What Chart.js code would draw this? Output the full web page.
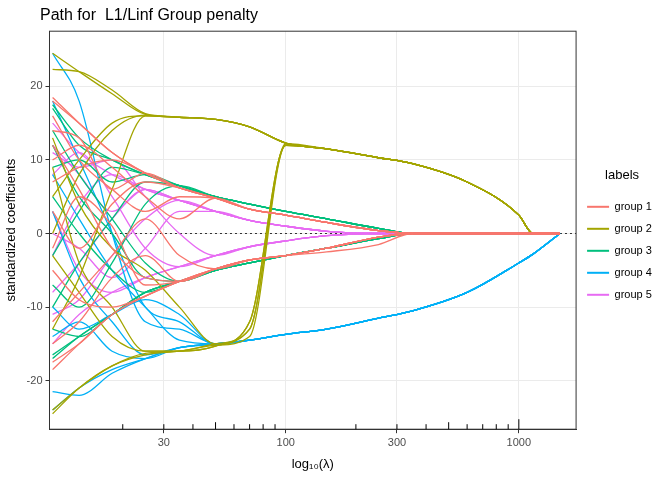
<!DOCTYPE html>
<html lang="en">
<head>
<meta charset="UTF-8">
<title>Path for L1/Linf Group penalty</title>
<script src="https://cdn.jsdelivr.net/npm/chart.js"></script>
<style>
  body { margin: 0; background: #fff; }
  #wrap { width: 672px; height: 480px; }
</style>
</head>
<body>
<div id="wrap"><canvas id="chart" width="672" height="480"></canvas></div>
<script>
// lambda grid shared by every path
const lambdas = [10, 13, 18, 25, 35, 50, 70, 100, 150, 250, 350, 600, 1000, 1150, 1500];
const groupNames = ['group 1', 'group 2', 'group 3', 'group 4', 'group 5'];
const groupColors = ['#F8766D', '#A3A500', '#00BF7D', '#00B0F6', '#E76BF3'];
const xTickLabels = [30, 100, 300, 1000];
const yTicks = [-20, -10, 0, 10, 20];

const group1 = [
  [18.5, 15, 11, 8.2, 6.2, 4.8, 3.3, 2.5, 1.5, 0.4, 0, 0, 0, 0, 0],
  [18, 15, 11, 8.2, 6.2, 4.8, 3.3, 2.5, 1.5, 0.4, 0, 0, 0, 0, 0],
  [-18.5, -15, -11, -8.5, -6.5, -4.8, -3.6, -3, -2, -0.5, 0, 0, 0, 0, 0],
  [-17.5, -15, -11, -8.5, -6.5, -4.8, -3.6, -3, -2, -0.5, 0, 0, 0, 0, 0],
  [16, 10, 6, 3, 5, 4.8, 3.3, 2.5, 1.5, 0.4, 0, 0, 0, 0, 0],
  [-12, -8, -3, 2, -3, -4.8, -3.6, -3, -2, -0.5, 0, 0, 0, 0, 0],
  [12, 6, -2, -6, -6.5, -4.8, -3.6, -3, -2.5, -1.5, 0, 0, 0, 0, 0],
  [7, 9, 10, 8.2, 6.2, 4.8, 3.3, 2.5, 1.5, 0.4, 0, 0, 0, 0, 0],
  [-5, -9, -10, -8.5, -6.5, -4.8, -3.6, -3, -2, -0.5, 0, 0, 0, 0, 0],
  [3, -2, 4, 7, 6.2, 4.8, 3.3, 2.5, 1.5, 0.4, 0, 0, 0, 0, 0],
  [-15, -12, -6, -3, -6.5, -4.8, -3.6, -3, -2, -0.5, 0, 0, 0, 0, 0],
  [10, 12, 9, 5, 2, 4.8, 3.3, 2.5, 1.5, 0.4, 0, 0, 0, 0, 0],
  [14, 13, 6, 8.2, 6.2, 4.8, 3.3, 2.5, 1.5, 0.4, 0, 0, 0, 0, 0],
  [-2, 5, 1, -7, -6.5, -4.8, -3.6, -3, -2, -0.5, 0, 0, 0, 0, 0]
];
const group2 = [
  [24.5, 22, 19, 16.2, 15.8, 15.5, 14.5, 12.3, 11.5, 10.3, 9.5, 7, 2.5, 0, 0],
  [22.3, 22, 19.5, 16.3, 15.8, 15.5, 14.5, 12.3, 11.5, 10.3, 9.5, 7, 2.5, 0, 0],
  [-24.5, -21, -18, -16.5, -16, -15.2, -14, 12, 11.5, 10.3, 9.5, 7, 2.5, 0, 0],
  [-24, -21, -18, -16.3, -16, -15, -13, 12.2, 11.5, 10.3, 9.5, 7, 2.5, 0, 0],
  [5, 10, 15, 16, 15.8, 15.5, 14.5, 12.3, 11.5, 10.3, 9.5, 7, 2.5, 0, 0],
  [-3, -8, -14, -16, -16, -15.3, -12, 12, 11.5, 10.3, 9.5, 7, 2.5, 0, 0],
  [13, 4, -2, -5, -10, -15, -13, 12, 11.5, 10.3, 9.5, 7, 2.5, 0, 0],
  [0, 8, 14, 16.1, 15.8, 15.5, 14.5, 12.3, 11.5, 10.3, 9.5, 7, 2.5, 0, 0],
  [-13, -6, 6, 16, 15.8, 15.5, 14.5, 12.3, 11.5, 10.3, 9.5, 7, 2.5, 0, 0],
  [9, -4, -10, -16, -16, -15.3, -12, 12, 11.5, 10.3, 9.5, 7, 2.5, 0, 0]
];
const group3 = [
  [17.5, 13, 10, 8, 6.5, 5, 4, 3, 2, 0.7, 0, 0, 0, 0, 0],
  [-17, -14, -11, -8, -6.5, -5, -4, -3, -2, -0.7, 0, 0, 0, 0, 0],
  [17, 12, 10, 8, 6.5, 5, 4, 3, 2, 0.7, 0, 0, 0, 0, 0],
  [-16.5, -14, -11, -8, -6.5, -5, -4, -3, -2, -0.7, 0, 0, 0, 0, 0],
  [12, 5, 0, -6, -6.5, -5, -4, -3, -2, -0.7, 0, 0, 0, 0, 0],
  [-10, -4, 2, 7, 6.5, 5, 4, 3, 2, 0.7, 0, 0, 0, 0, 0],
  [5, 0, -5, -8, -6.5, -5, -4, -3, -2, -0.7, 0, 0, 0, 0, 0],
  [-13, -14, -11, -8, -6.5, -5, -4, -3, -2, -0.7, 0, 0, 0, 0, 0],
  [9, 10, 7, 8, 6.5, 5, 4, 3, 2, 0.7, 0, 0, 0, 0, 0],
  [-3, 3, 9, 8, 6.5, 5, 4, 3, 2, 0.7, 0, 0, 0, 0, 0],
  [14, 8, 2, -4, -6.5, -5, -4, -3, -2, -0.7, 0, 0, 0, 0, 0],
  [-7, -10, -4, 4, 6.5, 5, 4, 3, 2, 0.7, 0, 0, 0, 0, 0]
];
const group4 = [
  [-24, -21, -18.5, -17, -15.5, -15, -14.5, -13.7, -13, -11.5, -10.5, -8, -4, -2.8, 0],
  [-21.5, -22, -19, -17, -15.5, -15, -14.5, -13.7, -13, -11.5, -10.5, -8, -4, -2.8, 0],
  [24.5, 18, 0, -12, -13, -15, -14.5, -13.7, -13, -11.5, -10.5, -8, -4, -2.8, 0],
  [18, 10, 0, -10, -12, -15, -14.5, -13.7, -13, -11.5, -10.5, -8, -4, -2.8, 0],
  [8, 2, -5, -10, -14.5, -15, -14.5, -13.7, -13, -11.5, -10.5, -8, -4, -2.8, 0],
  [-14, -12, -16, -17, -15.5, -15, -14.5, -13.7, -13, -11.5, -10.5, -8, -4, -2.8, 0],
  [3, -6, -12, -16.5, -15.5, -15, -14.5, -13.7, -13, -11.5, -10.5, -8, -4, -2.8, 0],
  [-10, -13, -11, -9, -11, -15, -14.5, -13.7, -13, -11.5, -10.5, -8, -4, -2.8, 0]
];
const group5 = [
  [15, 11, 8, 6, 4.5, 3, 1.8, 1, 0.3, 0, 0, 0, 0, 0, 0],
  [-15, -11, -8, -6, -4.5, -3, -1.8, -1, -0.3, 0, 0, 0, 0, 0, 0],
  [8, 11, 5, -2, -4.5, -3, -1.8, -1, -0.3, 0, 0, 0, 0, 0, 0],
  [-8, -4, 2, 6, 4.5, 3, 1.8, 1, 0.3, 0, 0, 0, 0, 0, 0],
  [3, -5, -8, -6, -4.5, -3, -1.8, -1, -0.3, 0, 0, 0, 0, 0, 0],
  [12, 8, 3, 6, 4.5, 3, 1.8, 1, 0.3, 0, 0, 0, 0, 0, 0],
  [-3, 4, 8, 6, 4.5, 3, 1.8, 1, 0.3, 0, 0, 0, 0, 0, 0],
  [0, -2, -6, -2, 3, 3, 1.8, 1, 0.3, 0, 0, 0, 0, 0, 0],
  [11, 9, 10, 5, 0, -3, -1.8, -1, -0.3, 0, 0, 0, 0, 0, 0],
  [-11, -9, -3, 2, 4.5, 3, 1.8, 1, 0.3, 0, 0, 0, 0, 0, 0]
];
const groups = [group1, group2, group3, group4, group5];

const datasets = [];
groups.forEach((g, gi) => {
  g.forEach(path => {
    datasets.push({
      label: groupNames[gi],
      data: path.map((y, i) => ({ x: lambdas[i], y: y })),
      borderColor: groupColors[gi],
      borderWidth: 1.3,
      pointRadius: 0,
      cubicInterpolationMode: 'monotone',
      fill: false
    });
  });
});
// dotted zero line
datasets.push({
  label: 'zero',
  data: [{ x: 8, y: 0 }, { x: 2000, y: 0 }],
  borderColor: '#333',
  borderWidth: 1,
  borderDash: [2, 3],
  pointRadius: 0
});

// panel border and short log ticks inside the bottom of the panel
const panelExtras = {
  id: 'panelExtras',
  afterDatasetsDraw(chart) {
    const xs = chart.scales.x, ctx = chart.ctx, a = chart.chartArea;
    const vals = [20, 30, 40, 50, 60, 70, 80, 90, 200, 300, 400, 500, 600, 700, 800, 900, 1000];
    ctx.save();
    ctx.strokeStyle = '#333';
    ctx.lineWidth = 1;
    ctx.strokeRect(a.left, a.top, a.right - a.left, a.bottom - a.top);
    ctx.strokeStyle = '#000';
    vals.forEach(v => {
      const px = xs.getPixelForValue(v);
      const len = (v === 100 || v === 1000) ? 10 : (v === 50 || v === 500) ? 7 : 5;
      ctx.beginPath();
      ctx.moveTo(px, a.bottom);
      ctx.lineTo(px, a.bottom - len);
      ctx.stroke();
    });
    ctx.restore();
  }
};

new Chart(document.getElementById('chart'), {
  type: 'line',
  data: { datasets: datasets },
  plugins: [panelExtras],
  options: {
    responsive: false,
    animation: false,
    layout: { padding: { top: 4, right: 4, left: 0, bottom: 4 } },
    scales: {
      x: {
        type: 'logarithmic',
        min: 9.7, max: 1760,
        afterBuildTicks: s => { s.ticks = xTickLabels.map(v => ({ value: v })); },
        ticks: { callback: v => String(v), color: '#4d4d4d', font: { size: 11 }, autoSkip: false, maxRotation: 0 },
        grid: { color: '#ebebeb', tickColor: '#333', tickLength: 4 },
        border: { color: '#333' },
        title: { display: true, text: 'log\u2081\u2080(\u03bb)', color: '#000', font: { size: 13 } }
      },
      y: {
        min: -26.6, max: 27.5,
        afterBuildTicks: s => { s.ticks = yTicks.map(v => ({ value: v })); },
        ticks: { color: '#4d4d4d', font: { size: 11 } },
        grid: { color: '#ebebeb', tickColor: '#333', tickLength: 4 },
        border: { color: '#333' },
        title: { display: true, text: 'standardized coefficients', color: '#000', font: { size: 13 } }
      }
    },
    plugins: {
      title: {
        display: true, text: '         Path for  L1/Linf Group penalty', align: 'start',
        color: '#000', font: { size: 16, weight: 'normal' }, padding: { top: 2, bottom: 6 }
      },
      legend: {
        position: 'right',
        title: { display: true, text: 'labels', color: '#000', font: { size: 13 }, padding: { top: 0, bottom: 6 } },
        labels: {
          color: '#000', font: { size: 11 }, boxWidth: 22, boxHeight: 2, padding: 11,
          generateLabels: () => groupNames.map((n, i) => ({
            text: n + '  ', fillStyle: groupColors[i], strokeStyle: groupColors[i], lineWidth: 0, datasetIndex: i
          }))
        }
      },
      tooltip: { enabled: false }
    }
  }
});
</script>
</body>
</html>
